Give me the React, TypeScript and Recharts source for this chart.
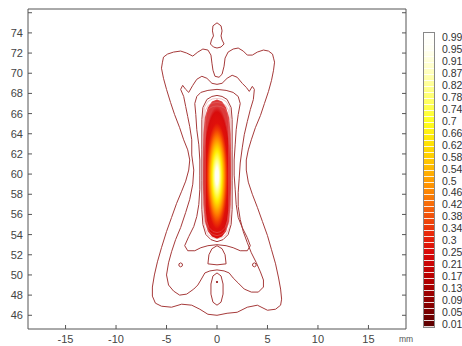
import { ScatterChart, Scatter, XAxis, YAxis } from "recharts";

type Pt = { x: number; y: number };

const xTicks = [-15, -10, -5, 0, 5, 10, 15];
const yTicks = [46, 48, 50, 52, 54, 56, 58, 60, 62, 64, 66, 68, 70, 72, 74, 76];
const colorbarLabels = [
  "0.99", "0.95", "0.91", "0.87", "0.82", "0.78", "0.74", "0.7", "0.66",
  "0.62", "0.58", "0.54", "0.5", "0.46", "0.42", "0.38", "0.34", "0.3",
  "0.25", "0.21", "0.17", "0.13", "0.09", "0.05", "0.01",
];

// contour traces (x in mm, y in mm)
const topBulb = [
  [0, 75.0], [-0.4, 74.7], [-0.45, 74.2], [-0.35, 73.7], [-0.55, 73.3], [-0.65, 72.9],
  [-0.35, 72.6], [0, 72.5], [0.4, 72.6], [0.7, 72.9], [0.5, 73.3], [0.4, 73.7],
  [0.5, 74.2], [0.4, 74.7],
];

const outerContour = [
  [-5.4, 71.1], [-5.3, 71.6], [-4.9, 71.9], [-4.3, 72.1], [-3.6, 72.2], [-3.0, 72.0],
  [-2.4, 71.7], [-1.9, 72.1], [-1.4, 72.4], [-0.9, 72.3], [-0.6, 71.8], [-0.5, 71.0],
  [-0.4, 70.3], [-0.2, 69.7], [0.2, 69.6], [0.5, 69.9], [0.7, 70.7], [0.8, 71.5],
  [1.1, 72.1], [1.6, 72.4], [2.1, 72.5], [2.6, 72.2], [3.0, 71.8], [3.5, 71.8],
  [4.0, 72.1], [4.6, 72.3], [5.1, 72.2], [5.5, 71.9], [5.6, 71.5], [5.7, 71.1],
  [5.6, 70.3], [5.4, 69.3], [5.1, 68.2], [4.7, 67.0], [4.3, 65.8], [3.8, 64.6],
  [3.4, 63.4], [3.1, 62.4], [2.9, 61.4], [2.9, 60.4], [3.1, 59.2], [3.5, 58.0],
  [4.0, 56.7], [4.5, 55.3], [5.0, 53.9], [5.4, 52.5], [5.8, 51.1], [6.1, 49.7],
  [6.3, 48.6], [6.4, 47.6], [6.3, 47.0], [5.8, 46.6], [5.0, 46.5], [4.0, 47.0],
  [3.0, 46.8], [2.0, 46.3], [1.0, 46.2], [0.0, 46.0], [-0.9, 46.1], [-1.7, 46.6],
  [-2.5, 47.0], [-3.5, 47.1], [-4.5, 46.8], [-5.5, 46.9], [-6.1, 47.2], [-6.4, 47.9],
  [-6.4, 48.8], [-6.2, 50.0], [-5.9, 51.3], [-5.5, 52.7], [-5.0, 54.3], [-4.5, 55.7],
  [-4.0, 57.1], [-3.5, 58.3], [-3.1, 59.3], [-2.8, 60.4], [-2.7, 61.4], [-2.9, 62.4],
  [-3.3, 63.4], [-3.7, 64.6], [-4.2, 65.9], [-4.6, 67.1], [-5.0, 68.4], [-5.3, 69.5],
  [-5.5, 70.5],
];

const secondContour = [
  [-3.6, 68.4], [-3.4, 68.8], [-3.1, 68.4], [-2.8, 68.1], [-2.4, 68.8], [-2.0, 69.4],
  [-1.5, 69.7], [-1.0, 69.5], [-0.5, 69.0], [0.0, 68.9], [0.5, 69.0], [1.0, 69.5],
  [1.5, 69.8], [2.0, 69.6], [2.5, 69.0], [2.9, 68.6], [3.2, 68.2], [3.5, 68.7],
  [3.7, 68.4], [3.6, 67.4], [3.3, 66.4], [3.0, 65.2], [2.7, 63.9], [2.5, 62.6],
  [2.3, 61.1], [2.2, 59.6], [2.1, 58.2], [2.1, 56.8], [2.3, 55.5], [2.6, 54.3],
  [3.0, 53.2], [3.4, 52.2], [3.9, 51.2], [4.3, 50.3], [4.6, 49.5], [4.6, 48.8],
  [4.1, 48.3], [3.4, 48.3], [2.7, 48.6], [2.1, 49.2], [1.6, 49.7], [1.2, 50.2],
  [0.7, 50.4], [0.0, 50.5], [-0.7, 50.4], [-1.2, 50.2], [-1.6, 49.5], [-1.9, 49.0],
  [-2.3, 48.6], [-3.0, 48.1], [-3.7, 48.0], [-4.3, 48.4], [-4.8, 49.0], [-5.0, 50.0],
  [-4.8, 51.2], [-4.5, 52.3], [-4.1, 53.5], [-3.6, 54.7], [-3.1, 56.2], [-2.7, 57.5],
  [-2.4, 59.0], [-2.3, 60.4], [-2.5, 61.9], [-2.5, 63.4], [-2.7, 64.7], [-2.9, 65.7],
  [-3.1, 66.7], [-3.3, 67.7],
];

const thirdContour = [
  [-2.2, 67.0], [-2.0, 67.7], [-1.6, 68.1], [-0.9, 68.3], [0.0, 68.4], [0.9, 68.3],
  [1.6, 68.1], [2.1, 67.7], [2.3, 67.0], [2.1, 65.9], [1.9, 64.4], [1.8, 62.9],
  [1.7, 61.4], [1.7, 59.9], [1.8, 58.5], [1.9, 57.0], [2.1, 55.7], [2.5, 54.7],
  [3.0, 53.7], [3.3, 52.9], [3.0, 52.4], [2.3, 52.4], [1.6, 52.7], [0.9, 52.9],
  [0.0, 53.0], [-0.9, 52.9], [-1.6, 52.7], [-2.2, 52.4], [-2.9, 52.4], [-3.2, 52.9],
  [-2.8, 53.8], [-2.3, 54.8], [-2.0, 55.8], [-1.8, 57.0], [-1.7, 58.5], [-1.7, 59.9],
  [-1.7, 61.4], [-1.8, 62.9], [-2.0, 64.4], [-2.1, 65.9],
];

const fourthContour = [
  [-1.5, 65.4], [-1.4, 66.6], [-1.0, 67.4], [-0.5, 67.7], [0.0, 67.8], [0.5, 67.7],
  [1.0, 67.4], [1.4, 66.6], [1.5, 65.4], [1.5, 62.4], [1.5, 59.4], [1.5, 56.5],
  [1.4, 55.0], [1.1, 54.0], [0.6, 53.5], [0.0, 53.3], [-0.6, 53.5], [-1.1, 54.0],
  [-1.4, 55.0], [-1.5, 56.5], [-1.5, 59.4], [-1.5, 62.4],
];

const ringA = [
  [-1.35, 65.5], [-1.25, 66.6], [-0.9, 67.2], [-0.45, 67.45], [0, 67.5], [0.45, 67.45],
  [0.9, 67.2], [1.25, 66.6], [1.35, 65.5], [1.35, 56], [1.25, 54.8], [0.9, 54.0],
  [0.45, 53.7], [0, 53.6], [-0.45, 53.7], [-0.9, 54.0], [-1.25, 54.8], [-1.35, 56],
];
const ringB = [
  [-1.25, 65.3], [-1.15, 66.3], [-0.85, 66.85], [-0.4, 67.05], [0, 67.1], [0.4, 67.05],
  [0.85, 66.85], [1.15, 66.3], [1.25, 65.3], [1.25, 56.2], [1.15, 55.1], [0.85, 54.35],
  [0.4, 54.0], [0, 53.9], [-0.4, 54.0], [-0.85, 54.35], [-1.15, 55.1], [-1.25, 56.2],
];
const ringC = [
  [-1.15, 65.1], [-1.05, 66.0], [-0.8, 66.5], [-0.4, 66.7], [0, 66.75], [0.4, 66.7],
  [0.8, 66.5], [1.05, 66.0], [1.15, 65.1], [1.15, 56.4], [1.05, 55.4], [0.8, 54.7],
  [0.4, 54.3], [0, 54.2], [-0.4, 54.3], [-0.8, 54.7], [-1.05, 55.4], [-1.15, 56.4],
];

const hotSpot = [
  [0, 67.4], [0.5, 67.2], [0.9, 66.6], [1.2, 65.6], [1.35, 64], [1.4, 62], [1.4, 59],
  [1.35, 57], [1.2, 55.3], [0.9, 54.3], [0.5, 53.8], [0, 53.6], [-0.5, 53.8], [-0.9, 54.3],
  [-1.2, 55.3], [-1.35, 57], [-1.4, 59], [-1.4, 62], [-1.35, 64], [-1.2, 65.6],
  [-0.9, 66.6], [-0.5, 67.2],
];

const capContour = [
  [-0.9, 51.1], [-0.8, 52.0], [-0.5, 52.6], [0.0, 52.9], [0.5, 52.6], [0.8, 52.0],
  [0.9, 51.1], [0.0, 51.0],
];
const lowerOval = [
  [0, 50.2], [-0.4, 49.9], [-0.6, 49.1], [-0.6, 48.1], [-0.4, 47.3], [0, 47.0],
  [0.4, 47.3], [0.6, 48.1], [0.6, 49.1], [0.4, 49.9],
];
const lowerDot = [[0, 49.4], [0.1, 49.3], [0, 49.2], [-0.1, 49.3]];
const leftDot = [[-3.6, 51.2], [-3.43, 51.1], [-3.43, 50.9], [-3.6, 50.8], [-3.77, 50.9], [-3.77, 51.1]];
const rightDot = [[3.7, 51.2], [3.87, 51.1], [3.87, 50.9], [3.7, 50.8], [3.53, 50.9], [3.53, 51.1]];

const toPts = (arr: number[][]): Pt[] => arr.map(([x, y]) => ({ x, y }));

const contourLines = [
  topBulb, outerContour, secondContour, thirdContour, fourthContour,
  capContour, lowerOval, lowerDot, leftDot, rightDot,
];
const blobRings = [ringA, ringB, ringC];

const AXIS = "#555";
const LINE = "#a63a3a";
const noDot = () => <g />;

const BottomTick = ({ x, y, payload }: any) => (
  <g>
    <line x1={x} y1={y} x2={x} y2={y - 4} stroke={AXIS} />
    <text x={x} y={y + 14} textAnchor="middle" fontSize={11} fill="#444">
      {payload.value}
    </text>
  </g>
);
const TopTick = ({ x, y }: any) => <line x1={x} y1={y} x2={x} y2={y + 4} stroke={AXIS} />;
const LeftTick = ({ x, y, payload }: any) => (
  <g>
    <line x1={x} y1={y} x2={x + 4} y2={y} stroke={AXIS} />
    {payload.value !== 76 && (
      <text x={x - 5} y={y + 4} textAnchor="end" fontSize={11} fill="#444">
        {payload.value}
      </text>
    )}
  </g>
);
const RightTick = ({ x, y }: any) => <line x1={x} y1={y} x2={x - 4} y2={y} stroke={AXIS} />;

export default function App() {
  return (
    <div
      style={{
        position: "absolute",
        left: 0,
        top: 0,
        width: 462,
        height: 346,
        background: "#fff",
        overflow: "hidden",
        fontFamily: '"Liberation Sans", Arial, sans-serif',
      }}
    >
      <ScatterChart width={462} height={346} margin={{ top: 8, right: 55, bottom: 16, left: 27 }}>
        <defs>
          <radialGradient id="heat" cx="0.5" cy="0.55" r="0.5">
            <stop offset="0" stopColor="#ffffff" />
            <stop offset="0.12" stopColor="#fffff0" />
            <stop offset="0.24" stopColor="#ffff70" />
            <stop offset="0.36" stopColor="#ffec00" />
            <stop offset="0.46" stopColor="#ffb400" />
            <stop offset="0.56" stopColor="#ff7800" />
            <stop offset="0.66" stopColor="#f03c04" />
            <stop offset="0.76" stopColor="#e0100a" />
            <stop offset="0.92" stopColor="#d80c0c" />
            <stop offset="1" stopColor="#dc3a3a" />
          </radialGradient>
        </defs>
        <XAxis
          xAxisId="b"
          type="number"
          dataKey="x"
          domain={[-18.72, 18.72]}
          ticks={xTicks}
          interval={0}
          allowDataOverflow
          height={1}
          tickSize={0}
          tickMargin={0}
          tickLine={false}
          axisLine={{ stroke: AXIS }}
          tick={BottomTick}
        />
        <XAxis
          xAxisId="t"
          orientation="top"
          type="number"
          domain={[-18.72, 18.72]}
          ticks={xTicks}
          interval={0}
          allowDataOverflow
          height={1}
          tickSize={0}
          tickMargin={0}
          tickLine={false}
          axisLine={{ stroke: AXIS }}
          tick={TopTick}
        />
        <YAxis
          yAxisId="l"
          type="number"
          dataKey="y"
          domain={[44.64, 76.37]}
          ticks={yTicks}
          interval={0}
          allowDataOverflow
          width={1}
          tickSize={0}
          tickMargin={0}
          tickLine={false}
          axisLine={{ stroke: AXIS }}
          tick={LeftTick}
        />
        <YAxis
          yAxisId="r"
          orientation="right"
          type="number"
          domain={[44.64, 76.37]}
          ticks={yTicks}
          interval={0}
          allowDataOverflow
          width={1}
          tickSize={0}
          tickMargin={0}
          tickLine={false}
          axisLine={{ stroke: AXIS }}
          tick={RightTick}
        />
        <Scatter
          xAxisId="b"
          yAxisId="l"
          data={toPts(hotSpot)}
          shape={noDot}
          line={{ stroke: "none", fill: "url(#heat)" }}
          lineJointType="linearClosed"
          isAnimationActive={false}
        />
        {blobRings.map((r, i) => (
          <Scatter
            key={"ring" + i}
            xAxisId="b"
            yAxisId="l"
            data={toPts(r)}
            shape={noDot}
            line={{ stroke: "#e07a7a", strokeWidth: 0.7, strokeOpacity: 0.6 }}
            lineJointType="linearClosed"
            isAnimationActive={false}
          />
        ))}
        {contourLines.map((c, i) => (
          <Scatter
            key={"c" + i}
            xAxisId="b"
            yAxisId="l"
            data={toPts(c)}
            shape={noDot}
            line={{ stroke: LINE, strokeWidth: 1 }}
            lineJointType="linearClosed"
            isAnimationActive={false}
          />
        ))}
      </ScatterChart>

      {/* colour bar */}
      <div
        style={{
          position: "absolute",
          left: 423,
          top: 32,
          width: 10,
          height: 294,
          border: "1px solid #888",
          background:
            "repeating-linear-gradient(to bottom, rgba(255,255,255,0) 0px, rgba(255,255,255,0) 5px, rgba(255,255,255,0.85) 5px, rgba(255,255,255,0.85) 6px), linear-gradient(to top, #5a0000 0%, #8a0000 8%, #b80000 17%, #d80808 25%, #ea2a0a 32%, #f5600a 40%, #ff9200 48%, #ffbf00 55%, #ffe000 62%, #ffff20 70%, #ffff80 80%, #ffffc8 88%, #fffff0 94%, #ffffff 100%)",
        }}
      />
      {colorbarLabels.map((l, i) => (
        <div
          key={l}
          style={{
            position: "absolute",
            left: 442,
            top: 37 + i * 11.96 - 6,
            fontSize: 10.5,
            lineHeight: "12px",
            color: "#333",
            whiteSpace: "nowrap",
          }}
        >
          {l}
        </div>
      ))}
      <div style={{ position: "absolute", left: 399, top: 334, fontSize: 8.5, color: "#555" }}>mm</div>
    </div>
  );
}
